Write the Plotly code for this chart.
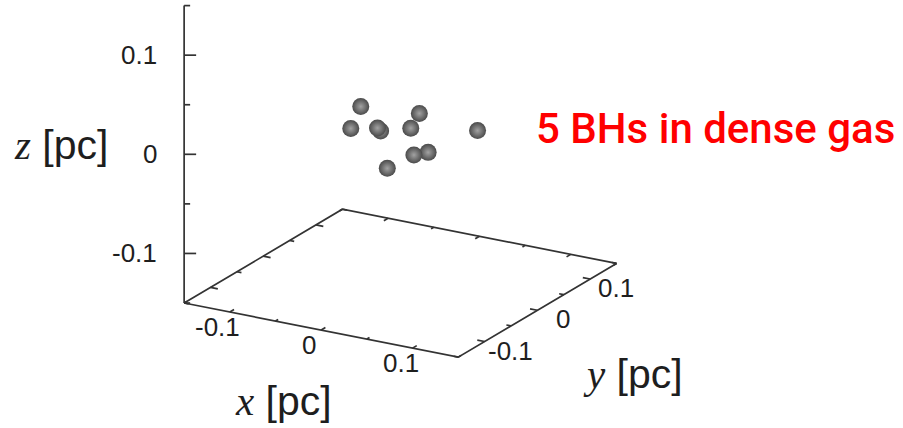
import numpy as np
import plotly.graph_objects as go

# Black-hole positions [pc]
bh_x = [-0.030, -0.049, -0.010, -0.014, 0.007, -0.007, 0.058, 0.027, 0.012, -0.005]
bh_y = [-0.023, -0.009, -0.020, -0.019, 0.024, 0.032, 0.046, 0.006, 0.005, -0.016]
bh_z = [0.030, 0.000, 0.008, 0.010, 0.015, -0.005, 0.000, -0.015, -0.020, -0.030]

# Axis extents and ticks [pc]
axis_min, axis_max = -0.15, 0.15
major_ticks = [-0.1, 0.0, 0.1]
major_labels = ["-0.1", "0", "0.1"]
minor_ticks = [-0.15, -0.05, 0.05, 0.15]

annotation_text = "5 BHs in dense gas"

# Orthographic view (rotation about x, then about z), gnuplot style
ROT_X = np.radians(70.0)
ROT_Z = np.radians(30.0)
PX_PER_UNIT = 1055.0
W, H = 903, 428
ORIGIN_PX = (400.3, 134.5)  # where (0,0,0) lands in the page


def project(x, y, z):
    x, y, z = (np.asarray(a, dtype=float) for a in (x, y, z))
    u = x * np.cos(ROT_Z) + y * np.sin(ROT_Z)
    d = -x * np.sin(ROT_Z) + y * np.cos(ROT_Z)
    v = d * np.cos(ROT_X) + z * np.sin(ROT_X)
    return u, v


def segments(starts, ends):
    """Join 3-D segments into one None-separated polyline."""
    us, vs = [], []
    for p, q in zip(starts, ends):
        u0, v0 = project(*p)
        u1, v1 = project(*q)
        us += [float(u0), float(u1), None]
        vs += [float(v0), float(v1), None]
    return us, vs


lo, hi = axis_min, axis_max
line_style = dict(color="#333333", width=1.7)
fig = go.Figure()

# Base frame at z = zmin and the vertical z axis
base = [(lo, lo, lo), (hi, lo, lo), (hi, hi, lo), (lo, hi, lo), (lo, lo, lo)]
bu, bv = project(*zip(*base))
fig.add_trace(go.Scatter(x=bu, y=bv, mode="lines", line=line_style, hoverinfo="skip"))
zu, zv = project([lo, lo], [lo, lo], [lo, hi])
fig.add_trace(go.Scatter(x=zu, y=zv, mode="lines", line=line_style, hoverinfo="skip"))

# Tick marks on the base edges (with mirrored ticks on the far edges)
starts, ends = [], []
for t in major_ticks + minor_ticks:
    L = 0.008 if t in major_ticks else 0.005
    starts += [(t, lo, lo), (t, hi, lo), (hi, t, lo), (lo, t, lo)]
    ends += [(t, lo + L, lo), (t, hi - L, lo), (hi - L, t, lo), (lo + L, t, lo)]
tu, tv = segments(starts, ends)

# z tick marks point horizontally to the right of the axis
for t in major_ticks + minor_ticks:
    Lpx = 12.0 if t in major_ticks else 6.0
    u0, v0 = project(lo, lo, t)
    tu += [float(u0), float(u0) + Lpx / PX_PER_UNIT, None]
    tv += [float(v0), float(v0), None]
fig.add_trace(go.Scatter(x=tu, y=tv, mode="lines", line=line_style, hoverinfo="skip"))

# Black holes as shaded spheres (light core fading to a dark rim)
pu, pv = project(bh_x, bh_y, bh_z)
fig.add_trace(go.Scatter(
    x=pu, y=pv, mode="markers", hoverinfo="skip",
    marker=dict(size=17, color="#4a4a4a",
                gradient=dict(type="radial", color="#a2a2a2"),
                line=dict(width=0)),
))

tick_font = dict(family="Liberation Sans, Arial, sans-serif", size=26, color="#1e1e1e")
title_font = dict(family="Liberation Sans, Arial, sans-serif", size=41, color="#1e1e1e")
annotations = []

for t, lab in zip(major_ticks, major_labels):
    u, v = project(lo, lo, t)
    annotations.append(dict(x=float(u), y=float(v), text=lab, showarrow=False,
                            xanchor="right", yanchor="middle", xshift=-25,
                            font=tick_font))
    u, v = project(t, lo, lo)
    annotations.append(dict(x=float(u), y=float(v), text=lab, showarrow=False,
                            xanchor="center", yanchor="middle", xshift=-12, yshift=-15,
                            font=tick_font))
    u, v = project(hi, t, lo)
    annotations.append(dict(x=float(u), y=float(v), text=lab, showarrow=False,
                            xanchor="center", yanchor="middle", xshift=26, yshift=-9,
                            font=tick_font))


def axis_title(sym):
    return ('<span style="font-family:Liberation Serif, Times New Roman, serif">'
            f'<i>{sym}</i></span> [pc]')


u, v = project(lo, lo, 0.0)
annotations.append(dict(x=float(u), y=float(v), text=axis_title("z"), showarrow=False,
                        xanchor="center", yanchor="middle", xshift=-123, yshift=9,
                        font=title_font))
u, v = project(0.0, lo, lo)
annotations.append(dict(x=float(u), y=float(v), text=axis_title("x"), showarrow=False,
                        xanchor="center", yanchor="middle", xshift=-38, yshift=-71,
                        font=title_font))
u, v = project(hi, 0.0, lo)
annotations.append(dict(x=float(u), y=float(v), text=axis_title("y"), showarrow=False,
                        xanchor="center", yanchor="middle", xshift=96, yshift=-64,
                        font=title_font))

annotations.append(dict(x=534 / W, y=1 - 129 / H, xref="paper", yref="paper",
                        text=annotation_text, showarrow=False,
                        xanchor="left", yanchor="middle",
                        font=dict(family="Roboto, sans-serif",
                                  size=42, color="#ff0000", weight=500)))

u_range = [-ORIGIN_PX[0] / PX_PER_UNIT, (W - ORIGIN_PX[0]) / PX_PER_UNIT]
v_range = [-(H - ORIGIN_PX[1]) / PX_PER_UNIT, ORIGIN_PX[1] / PX_PER_UNIT]

fig.update_layout(
    width=W, height=H,
    margin=dict(l=0, r=0, t=0, b=0),
    paper_bgcolor="white", plot_bgcolor="white",
    showlegend=False,
    xaxis=dict(range=u_range, visible=False, fixedrange=True),
    yaxis=dict(range=v_range, visible=False, fixedrange=True),
    annotations=annotations,
)

fig.write_html("out.html")
